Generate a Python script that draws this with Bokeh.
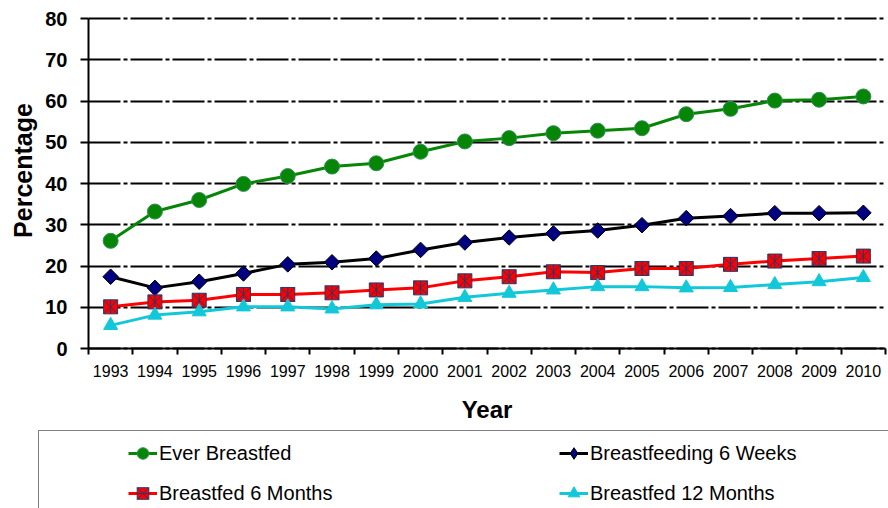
import math
from bokeh.plotting import figure
from bokeh.models import (Range1d, FixedTicker, Legend, LegendItem, Grid,
                          Label, LinearAxis)
from bokeh.embed import file_html
from bokeh.resources import INLINE

# ---- data ----
years = [1993, 1994, 1995, 1996, 1997, 1998, 1999, 2000, 2001,
         2002, 2003, 2004, 2005, 2006, 2007, 2008, 2009, 2010]
ever_breastfed = [26.1, 33.2, 36.0, 39.9, 41.8, 44.1, 44.9, 47.7, 50.2,
                  51.0, 52.2, 52.8, 53.4, 56.8, 58.1, 60.1, 60.3, 61.1]
breastfeeding_6_weeks = [17.4, 14.7, 16.2, 18.2, 20.4, 20.9, 21.8, 23.9, 25.7,
                         26.9, 27.9, 28.6, 29.9, 31.6, 32.1, 32.8, 32.8, 32.9]
breastfed_6_months = [10.1, 11.3, 11.7, 13.1, 13.1, 13.5, 14.2, 14.7, 16.4,
                      17.4, 18.6, 18.4, 19.4, 19.4, 20.4, 21.2, 21.8, 22.4]
breastfed_12_months = [5.6, 8.1, 8.9, 10.1, 10.1, 9.6, 10.6, 10.8, 12.4,
                       13.4, 14.2, 15.0, 15.0, 14.7, 14.8, 15.5, 16.2, 17.2]
y_ticks = [0, 10, 20, 30, 40, 50, 60, 70, 80]
labels = ["Ever Breastfed", "Breastfeeding 6 Weeks",
          "Breastfed 6 Months", "Breastfed 12 Months"]

FONT = "Liberation Sans"
GREEN = "#078507"
NAVY = "#000080"
RED = "#ff0000"
CYAN = "#12c8d8"
XNAVY = "#23386e"
NAN = float("nan")

# ---- layout (canvas pixels) ----
W, H = 888, 508
PLOT_L, PLOT_R = 88, 885      # plot area left/right
PLOT_T, PLOT_B = 18, 348      # plot area top/bottom

x_lo = years[0] - 0.5
x_hi = years[-1] + 0.5
y_lo = y_ticks[0]
y_hi = y_ticks[-1]
ppx = (PLOT_R - PLOT_L) / (x_hi - x_lo)
ppy = (PLOT_B - PLOT_T) / (y_hi - y_lo)
x_range = Range1d(x_lo - PLOT_L / ppx, x_hi + (W - PLOT_R) / ppx)
y_range = Range1d(y_lo - (H - PLOT_B) / ppy, y_hi + PLOT_T / ppy)

p = figure(width=W, height=H, x_range=x_range, y_range=y_range,
           title=None, output_backend="svg", toolbar_location=None,
           x_axis_location=None, y_axis_location=None,
           min_border=0)
p.outline_line_color = None
p.background_fill_color = "white"
p.border_fill_color = "white"
p.xgrid.visible = False
p.ygrid.visible = False

# grid lines (dash-dot)
if "cross_bounds" in Grid.properties():
    g = Grid(dimension=1, ticker=FixedTicker(ticks=y_ticks),
             cross_bounds=(x_lo, x_hi), grid_line_color="black",
             grid_line_width=2, grid_line_dash="32 3 4 3")
    p.add_layout(g)
else:
    gy = y_ticks[1:]
    p.segment(x0=[x_lo] * len(gy), x1=[x_hi] * len(gy), y0=gy, y1=gy,
              line_color="black", line_width=2, line_dash="32 3 4 3")

# ---- series ----
LW = 3
r_ever = [
    p.line(years, ever_breastfed, line_color=GREEN, line_width=LW),
    p.scatter(years, ever_breastfed, marker="circle", size=15, fill_color=GREEN,
              line_color="#2f8f55", line_width=1),
]
r_w6_line = p.line(years, breastfeeding_6_weeks, line_color="black", line_width=LW)
p.scatter(years, breastfeeding_6_weeks, marker="square", angle=math.pi / 4,
          size=11, fill_color=NAVY, line_color="black", line_width=1)
r_m6 = [
    p.line(years, breastfed_6_months, line_color=RED, line_width=LW),
    p.scatter(years, breastfed_6_months, marker="square_x", size=14,
              fill_color=RED, line_color=XNAVY, line_width=1),
    p.scatter(years, breastfed_6_months, marker="dash", angle=math.pi / 2,
              size=14, line_color=XNAVY, line_width=1),
]
r_m12 = [
    p.line(years, breastfed_12_months, line_color=CYAN, line_width=LW),
    p.scatter(years, breastfed_12_months, marker="triangle", size=14,
              fill_color=CYAN, line_color=CYAN, line_width=1),
]
# legend-only helpers (no visible data)
r_w6_key = p.scatter(x=[NAN], y=[NAN], marker="diamond", size=12,
                     fill_color=NAVY, line_color="black", line_width=1)
r_box = p.line(x=[NAN], y=[NAN], line_alpha=0)

# ---- axes (fixed inside the frame) ----
ya = LinearAxis(ticker=FixedTicker(ticks=y_ticks), fixed_location=x_lo,
                bounds=(y_lo, y_hi))
ya.major_label_text_font = FONT
ya.major_label_text_font_size = "20px"
ya.major_label_text_font_style = "bold"
ya.major_label_text_color = "black"
ya.major_label_standoff = 13
ya.major_tick_out = 8
ya.major_tick_in = 0
ya.major_tick_line_width = 2
ya.major_tick_line_color = "black"
ya.minor_tick_line_color = None
ya.axis_line_width = 2
ya.axis_line_color = "black"
p.add_layout(ya, "left")

bounds = [y - 0.5 for y in years] + [years[-1] + 0.5]
xa = LinearAxis(ticker=FixedTicker(ticks=years, minor_ticks=bounds),
                fixed_location=y_lo, bounds=(x_lo, x_hi))
xa.axis_label = "Year"
xa.axis_label_text_font = FONT
xa.axis_label_text_font_size = "24px"
xa.axis_label_text_font_style = "bold"
xa.axis_label_text_color = "black"
xa.axis_label_standoff = 16
xa.major_label_text_font = FONT
xa.major_label_text_font_size = "16px"
xa.major_label_text_color = "black"
xa.major_label_standoff = 10
xa.major_tick_line_color = None
xa.major_tick_out = 6
xa.major_tick_in = 0
xa.minor_tick_line_color = "black"
xa.minor_tick_line_width = 2
xa.minor_tick_out = 6
xa.minor_tick_in = 0
xa.axis_line_width = 2
xa.axis_line_color = "black"
p.add_layout(xa, "below")

p.add_layout(Label(text="Percentage", x=22, y=H - 170, x_units="screen",
                   y_units="screen", angle=math.pi / 2, text_align="center",
                   text_baseline="middle", text_font=FONT,
                   text_font_size="25px", text_font_style="bold",
                   text_color="black"))

# ---- legend ----
box = Legend(items=[LegendItem(label=" ", renderers=[r_box])],
             location=(38, -24), padding=0, margin=0,
             glyph_width=900, glyph_height=100, label_height=100,
             border_line_color="black", border_line_width=1,
             background_fill_alpha=0)
p.add_layout(box, "center")


def make_legend(items, x):
    return Legend(items=items, location=(x, 0), orientation="vertical",
                  padding=0, margin=0, spacing=10,
                  glyph_width=29, glyph_height=30, label_height=30,
                  label_standoff=2,
                  label_text_font=FONT, label_text_font_size="20px",
                  label_text_color="black",
                  border_line_color=None, background_fill_alpha=0)


leg1 = make_legend([LegendItem(label=labels[0], renderers=r_ever),
                    LegendItem(label=labels[2], renderers=r_m6)], 128)
leg2 = make_legend([LegendItem(label=labels[1], renderers=[r_w6_line, r_w6_key]),
                    LegendItem(label=labels[3], renderers=r_m12)], 559)
p.add_layout(leg1, "center")
p.add_layout(leg2, "center")

open("out.html", "w").write(file_html(p, INLINE))
